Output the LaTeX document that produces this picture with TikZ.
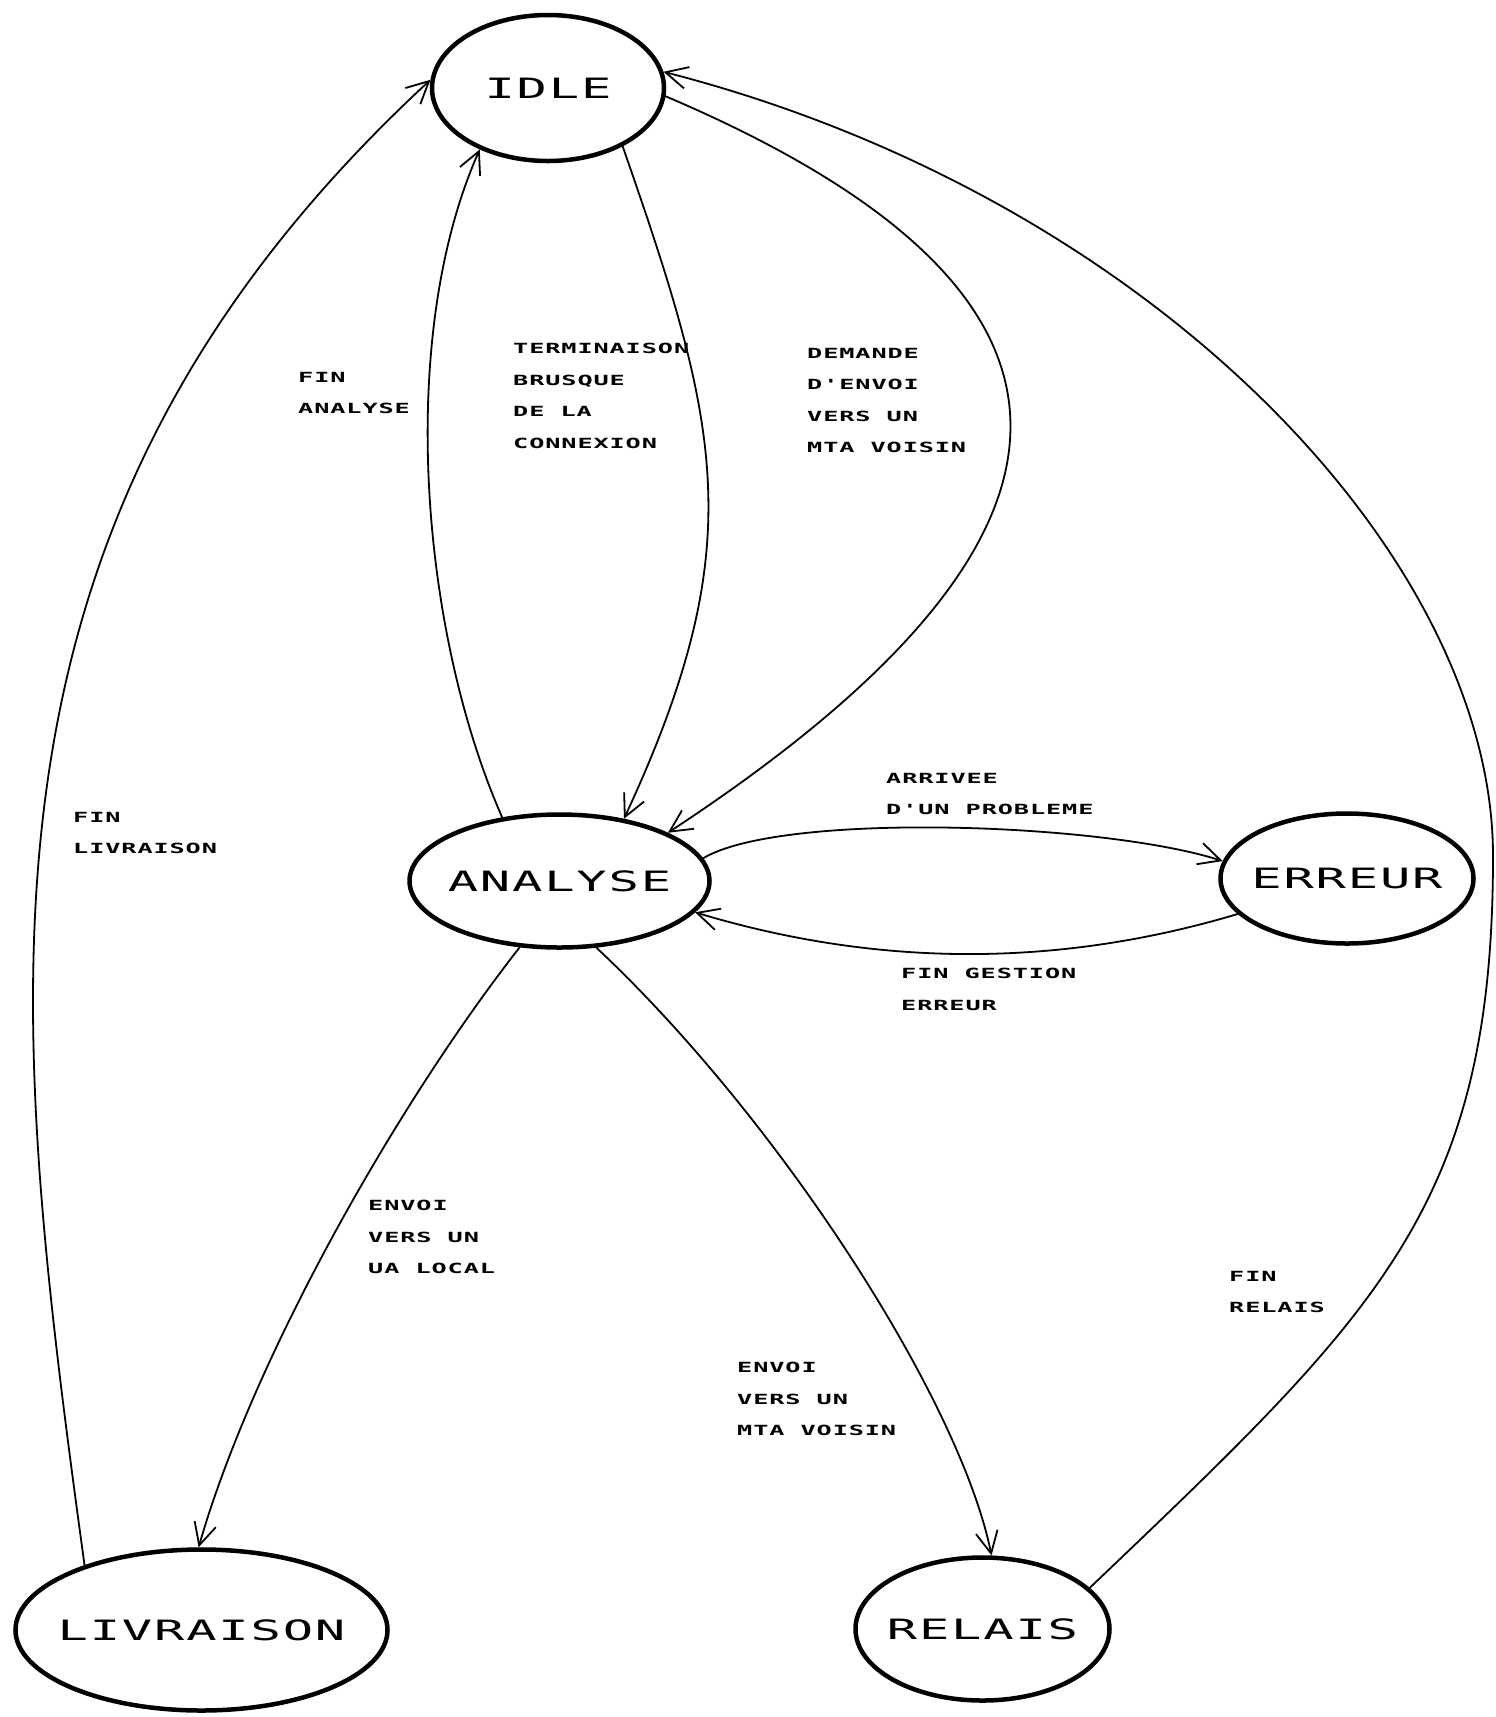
\documentclass[tikz,border=0pt]{standalone}
\usepackage{fontspec}
\newfontfamily\plotterfont[FakeStretch=1.8,LetterSpace=6.5]{DejaVu Sans Mono}
\usetikzlibrary{arrows.meta,shapes.geometric}
\begin{document}
\begin{tikzpicture}[x=1pt,y=-1pt,
  state/.style={ellipse, draw, line width=4.5pt, inner sep=0pt,
    font=\plotterfont\fontsize{28}{34}\selectfont},
  trans/.style={line width=1.8pt, line cap=round,
    -{Straight Barb[length=22pt,width=22pt]}},
  tlabel/.style={anchor=north west, inner sep=0pt, align=left,
    font=\plotterfont\bfseries\fontsize{14}{31.5}\selectfont}
]
\useasboundingbox (0,0) rectangle (1496,1717);

% states
\node[state, minimum width=232pt, minimum height=146pt] (idle) at (548,88) {\makebox[0pt]{IDLE}};
\node[state, minimum width=300pt, minimum height=133pt] (analyse) at (559.5,881) {\makebox[0pt]{ANALYSE}};
\node[state, minimum width=253pt, minimum height=130pt] (erreur) at (1347,878.5) {\makebox[0pt]{ERREUR}};
\node[state, minimum width=372pt, minimum height=161pt] (livraison) at (201.5,1630) {\makebox[0pt]{LIVRAISON}};
\node[state, minimum width=254pt, minimum height=143pt] (relais) at (982.5,1629) {\makebox[0pt]{RELAIS}};

% bend point of the long arc on the right
\coordinate (rbend) at (1493,856);

% transitions
\draw[trans] (livraison.151) .. controls (6,991) and (-47,522) .. (idle.176);
\draw[trans] (analyse.132) .. controls (421,633) and (396,338) .. (idle.222);
\draw[trans] (idle.322) .. controls (721,429) and (751,545) .. (analyse.44);
\draw[trans] (idle.356) .. controls (1144,300) and (1105,546) .. (analyse.24);
\draw[trans] (analyse.9) .. controls (780,812) and (1100,822) .. (erreur.172);
\draw[trans] (erreur.198) .. controls (1050,970) and (870,965) .. (analyse.347);
\draw[trans] (analyse.239) .. controls (397,1104) and (253,1358) .. (livraison.92);
\draw[trans] (analyse.299) .. controls (780,1120) and (960,1400) .. (relais.83);
\draw[trans] (relais.21) .. controls (1379,1312) and (1493,1206) .. (rbend)
  .. controls (1493,556) and (1151,197) .. (idle.8);

% transition labels
\node[tlabel] (lfinanalyse) at (298,372) {FIN\\ANALYSE};
\node[tlabel] (lterm) at (513,343) {TERMINAISON\\BRUSQUE\\DE LA\\CONNEXION};
\node[tlabel] (ldemande) at (807,348) {DEMANDE\\D'ENVOI\\VERS UN\\MTA VOISIN};
\node[tlabel] (larrivee) at (886,773) {ARRIVEE\\D'UN PROBLEME};
\node[tlabel] (lfingestion) at (901,968) {FIN GESTION\\ERREUR};
\node[tlabel] (lfinlivraison) at (73,812) {FIN\\LIVRAISON};
\node[tlabel] (lenvoiua) at (368,1200) {ENVOI\\VERS UN\\UA LOCAL};
\node[tlabel] (lenvoimta) at (737,1362) {ENVOI\\VERS UN\\MTA VOISIN};
\node[tlabel] (lfinrelais) at (1229,1271) {FIN\\RELAIS};
\end{tikzpicture}
\end{document}
